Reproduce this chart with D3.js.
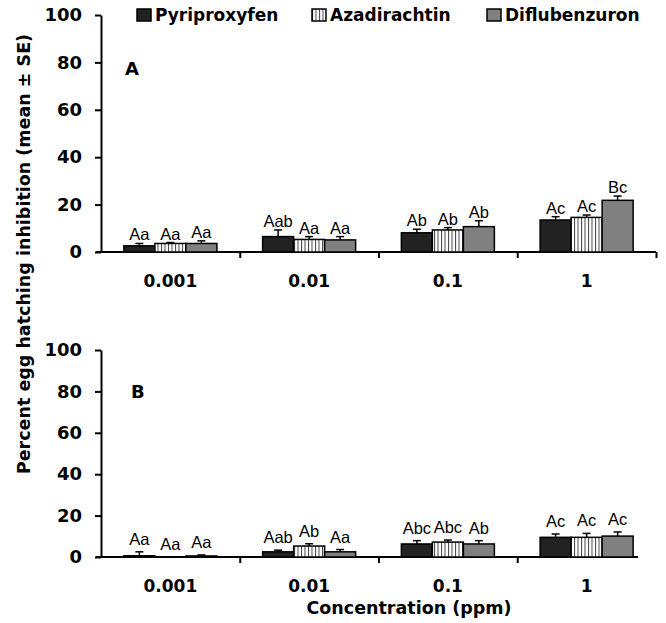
<!DOCTYPE html>
<html>
<head>
<meta charset="utf-8">
<script src="https://cdn.jsdelivr.net/npm/d3@7"></script>
<style>
  body { margin: 0; background: #fff; }
  .axis path, .axis line { stroke: #000; stroke-width: 2; }
  .axis text { font-family: "DejaVu Sans", sans-serif; font-weight: bold; fill: #000; }
</style>
</head>
<body>
<svg id="chart" width="666" height="623"></svg>
<script>
// categories and series
const concentrations = ['0.001', '0.01', '0.1', '1'];
const products = ['Pyriproxyfen', 'Azadirachtin', 'Diflubenzuron'];
const yTicks = [0, 20, 40, 60, 80, 100];

// panel A
const pyriA = [2.6, 6.5, 8.1, 13.5];
const pyriASe = [1.0, 2.8, 1.5, 1.4];
const azaA = [3.6, 5.3, 9.3, 14.6];
const azaASe = [0.4, 1.2, 1.0, 1.0];
const difA = [3.6, 5.1, 10.7, 21.8];
const difASe = [1.1, 1.4, 2.5, 1.8];
const pyriALetters = ['Aa', 'Aab', 'Ab', 'Ac'];
const azaALetters = ['Aa', 'Aa', 'Ab', 'Ac'];
const difALetters = ['Aa', 'Aa', 'Ab', 'Bc'];

// panel B
const pyriB = [0.6, 2.5, 6.3, 9.5];
const pyriBSe = [1.9, 0.8, 1.6, 1.6];
const azaB = [0.1, 5.3, 7.2, 9.5];
const azaBSe = [0, 1.1, 1.0, 1.9];
const difB = [0.5, 2.5, 6.3, 10.1];
const difBSe = [0.5, 1.1, 1.6, 2.0];
const pyriBLetters = ['Aa', 'Aab', 'Abc', 'Ac'];
const azaBLetters = ['Aa', 'Ab', 'Abc', 'Ac'];
const difBLetters = ['Aa', 'Aa', 'Ab', 'Ac'];

const svg = d3.select('#chart');

// fills
const defs = svg.append('defs');
const pat = defs.append('pattern')
    .attr('id', 'stripes')
    .attr('patternUnits', 'userSpaceOnUse')
    .attr('width', 3.5).attr('height', 10);
pat.append('rect').attr('width', 3.5).attr('height', 10).attr('fill', '#fff');
pat.append('line').attr('x1', 0.5).attr('x2', 0.5).attr('y1', 0).attr('y2', 10)
    .attr('stroke', '#444').attr('stroke-width', 1);

const fills = ['#222222', 'url(#stripes)', '#808080'];

const x = d3.scaleBand().domain(concentrations).range([101, 656]);
const xBound = d3.scaleLinear().domain([0, concentrations.length]).range([101, 656]);
const xInner = d3.scaleBand().domain(products).range([0, 93]);

function table(means, ses, letters) {
    return concentrations.map((c, i) => products.map((p, k) => ({
        c: c, p: p, v: means[k][i], se: ses[k][i], l: letters[k][i]
    }))).flat();
}

const panels = [
    { name: 'A', yRange: [252, 15], labelY: 75, labelX: 125, gap: 3, endTick: true, axisEnd: 656,
      rows: table([pyriA, azaA, difA], [pyriASe, azaASe, difASe], [pyriALetters, azaALetters, difALetters]) },
    { name: 'B', yRange: [557, 350], labelY: 398, labelX: 131, gap: 7, endTick: false, axisEnd: 638,
      rows: table([pyriB, azaB, difB], [pyriBSe, azaBSe, difBSe], [pyriBLetters, azaBLetters, difBLetters]) }
];

panels.forEach(pn => {
    const y = d3.scaleLinear().domain([0, 100]).range(pn.yRange);
    const g = svg.append('g');
    const off = (x.bandwidth() - xInner.range()[1]) / 2;

    // y axis
    g.append('g').attr('class', 'axis')
        .attr('transform', 'translate(101,0)')
        .call(d3.axisLeft(y).tickValues(yTicks).tickSize(6).tickSizeOuter(0).tickPadding(13))
        .selectAll('text').style('font-size', '18px');

    // x axis: ticks at group boundaries
    const bounds = d3.range(1, concentrations.length + (pn.endTick ? 1 : 0));
    const xa = g.append('g').attr('class', 'axis')
        .attr('transform', 'translate(0,' + y(0) + ')')
        .call(d3.axisBottom(xBound).tickValues(bounds).tickFormat('').tickSize(6).tickSizeOuter(0));
    xa.select('.domain').attr('d', 'M96,0H' + pn.axisEnd);

    // category labels
    g.append('g').attr('class', 'axis')
        .attr('transform', 'translate(0,' + (y(0) + 35) + ')')
        .call(d3.axisBottom(x).tickSize(0).tickPadding(0))
        .call(a => a.select('.domain').remove())
        .selectAll('text').style('font-size', '17px').attr('dy', 0);

    // bars
    g.selectAll('rect.bar').data(pn.rows).enter().append('rect')
        .attr('class', 'bar')
        .attr('x', d => x(d.c) + off + xInner(d.p))
        .attr('width', xInner.bandwidth())
        .attr('y', d => y(d.v))
        .attr('height', d => y(0) - y(d.v))
        .attr('fill', d => fills[products.indexOf(d.p)])
        .attr('stroke', '#000').attr('stroke-width', 1.5);

    // upper error bars
    const eb = g.selectAll('g.err').data(pn.rows.filter(d => d.se > 0)).enter().append('g')
        .attr('class', 'err')
        .attr('stroke', '#000').attr('stroke-width', 1.5);
    const cx = d => x(d.c) + off + xInner(d.p) + xInner.bandwidth() / 2;
    eb.append('line')
        .attr('x1', cx).attr('x2', cx)
        .attr('y1', d => y(d.v)).attr('y2', d => y(d.v + d.se));
    eb.append('line')
        .attr('x1', d => cx(d) - 4).attr('x2', d => cx(d) + 4)
        .attr('y1', d => y(d.v + d.se)).attr('y2', d => y(d.v + d.se));

    // significance letters
    g.selectAll('text.let').data(pn.rows).enter().append('text')
        .attr('class', 'let')
        .attr('x', cx)
        .attr('y', d => y(d.v + d.se) - pn.gap)
        .attr('text-anchor', 'middle')
        .style('font-family', '"Liberation Sans", Arial, sans-serif')
        .style('font-size', '16.5px')
        .text(d => d.l);

    // panel letter
    g.append('text')
        .attr('x', pn.labelX).attr('y', pn.labelY)
        .style('font-family', '"DejaVu Sans", sans-serif')
        .style('font-weight', 'bold').style('font-size', '18px')
        .text(pn.name);
});

// legend
const legendX = [137, 312, 487];
const lg = svg.append('g').selectAll('g').data(products).enter().append('g')
    .attr('transform', (d, i) => 'translate(' + legendX[i] + ',9)');
lg.append('rect').attr('width', 14).attr('height', 12)
    .attr('fill', (d, i) => fills[i]).attr('stroke', '#000').attr('stroke-width', 1.5);
lg.append('text').attr('x', 18).attr('y', 12)
    .style('font-family', '"DejaVu Sans", sans-serif')
    .style('font-weight', 'bold').style('font-size', '17px')
    .text(d => d);

// axis titles
svg.append('text')
    .attr('transform', 'translate(30,254) rotate(-90)')
    .attr('text-anchor', 'middle')
    .style('font-family', '"DejaVu Sans", sans-serif')
    .style('font-weight', 'bold').style('font-size', '17.5px')
    .text('Percent egg hatching inhibition (mean ± SE)');

svg.append('text')
    .attr('x', 409).attr('y', 614)
    .attr('text-anchor', 'middle')
    .style('font-family', '"DejaVu Sans", sans-serif')
    .style('font-weight', 'bold').style('font-size', '17.5px')
    .text('Concentration (ppm)');
</script>
</body>
</html>
